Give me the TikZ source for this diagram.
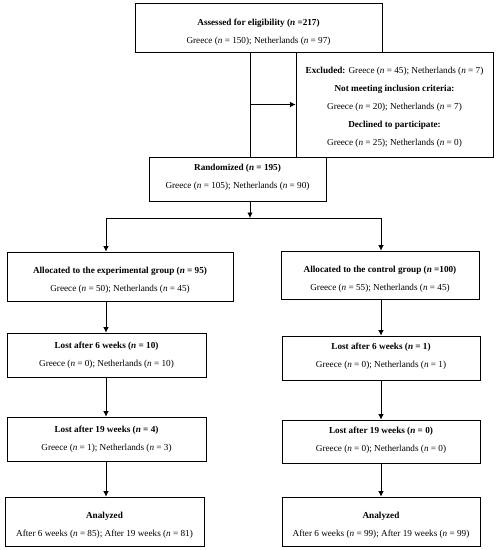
\documentclass[tikz,border=0pt]{standalone}
\usepackage{fontspec}
\setmainfont{Liberation Serif}
\usetikzlibrary{arrows.meta}
\newcommand\tsh[1]{\rule{0pt}{#1pt}}
\newcommand\tdp[1]{\rule[-#1pt]{0pt}{#1pt}}
\begin{document}
\begin{tikzpicture}[x=1pt,y=-1pt,
  box/.style={draw, line width=0.8pt, inner sep=0pt, align=center, font=\fontsize{9.2}{18}\selectfont},
  arr/.style={-{Latex[length=5.5pt,width=5.5pt]}, line width=0.8pt},
  ln/.style={line width=0.8pt}]
\useasboundingbox (0,0) rectangle (498,550);
\fill[white] (0,0) rectangle (498,550);
\coordinate (vx) at (250,0);
\coordinate (lx) at (106,0);
\coordinate (rx) at (381,0);
\coordinate (split) at (250,218);

\node[box, minimum width=247, minimum height=49] (assess) at (258.5,27.5)
  {\tsh{16.5}\textbf{Assessed for eligibility (\textit{n} =217)}\\Greece (\textit{n} = 150); Netherlands (\textit{n} = 97)};
\node[box, minimum width=197, minimum height=105] (excl) at (394.5,104.5)
  {\tsh{12.5}\textbf{Excluded:} Greece (\textit{n} = 45); Netherlands (\textit{n} = 7)\\
   \textbf{Not meeting inclusion criteria:}\\
   Greece (\textit{n} = 20); Netherlands (\textit{n} = 7)\\
   \textbf{Declined to participate:}\\
   Greece (\textit{n} = 25); Netherlands (\textit{n} = 0)};
\node[box, minimum width=177, minimum height=44] (rand) at (237.5,179)
  {\textbf{Randomized (\textit{n} = 195)}\\Greece (\textit{n} = 105); Netherlands (\textit{n} = 90)\tdp{5.3}};

\node[box, minimum width=226, minimum height=49] (lalloc) at (120,276.5)
  {\tsh{14.8}\textbf{Allocated to the experimental group (\textit{n} = 95)}\\Greece (\textit{n} = 50); Netherlands (\textit{n} = 45)};
\node[box, minimum width=199, minimum height=44] (llost6) at (106.5,355)
  {\textbf{Lost after 6 weeks (\textit{n} = 10)}\\Greece (\textit{n} = 0); Netherlands (\textit{n} = 10)};
\node[box, minimum width=199, minimum height=44] (llost19) at (106.5,439)
  {\textbf{Lost after 19 weeks (\textit{n} = 4)}\\Greece (\textit{n} = 1); Netherlands (\textit{n} = 3)};
\node[box, minimum width=199, minimum height=49] (lana) at (104.5,521.5)
  {\tsh{14.8}\textbf{Analyzed}\\After 6 weeks (\textit{n} = 85); After 19 weeks (\textit{n} = 81)};

\node[box, minimum width=198, minimum height=48] (ralloc) at (380,275)
  {\tsh{15.8}\textbf{Allocated to the control group (\textit{n} =100)}\\Greece (\textit{n} = 55); Netherlands (\textit{n} = 45)};
\node[box, minimum width=198, minimum height=44] (rlost6) at (381,358)
  {\textbf{Lost after 6 weeks (\textit{n} = 1)}\\Greece (\textit{n} = 0); Netherlands (\textit{n} = 1)\tdp{6.3}};
\node[box, minimum width=198, minimum height=43] (rlost19) at (381,441.5)
  {\textbf{Lost after 19 weeks (\textit{n} = 0)}\\Greece (\textit{n} = 0); Netherlands (\textit{n} = 0)\tdp{4.3}};
\node[box, minimum width=198, minimum height=49] (rana) at (381,521.5)
  {\tsh{14.8}\textbf{Analyzed}\\After 6 weeks (\textit{n} = 99); After 19 weeks (\textit{n} = 99)};

\draw[ln] (assess.south -| vx) -- (rand.north -| vx);
\draw[arr] (excl.west -| vx) -- (excl.west);
\draw[arr] (rand.south -| vx) -- (split);
\draw[ln] (split -| lx) -- (split -| rx);
\draw[arr] (split -| lx) -- (lalloc.north -| lx);
\draw[arr] (split -| rx) -- (ralloc.north -| rx);
\draw[arr] (lalloc.south -| lx) -- (llost6.north -| lx);
\draw[arr] (llost6.south -| lx) -- (llost19.north -| lx);
\draw[arr] (llost19.south -| lx) -- (lana.north -| lx);
\draw[arr] (ralloc.south -| rx) -- (rlost6.north -| rx);
\draw[arr] (rlost6.south -| rx) -- (rlost19.north -| rx);
\draw[arr] (rlost19.south -| rx) -- (rana.north -| rx);
\end{tikzpicture}
\end{document}
